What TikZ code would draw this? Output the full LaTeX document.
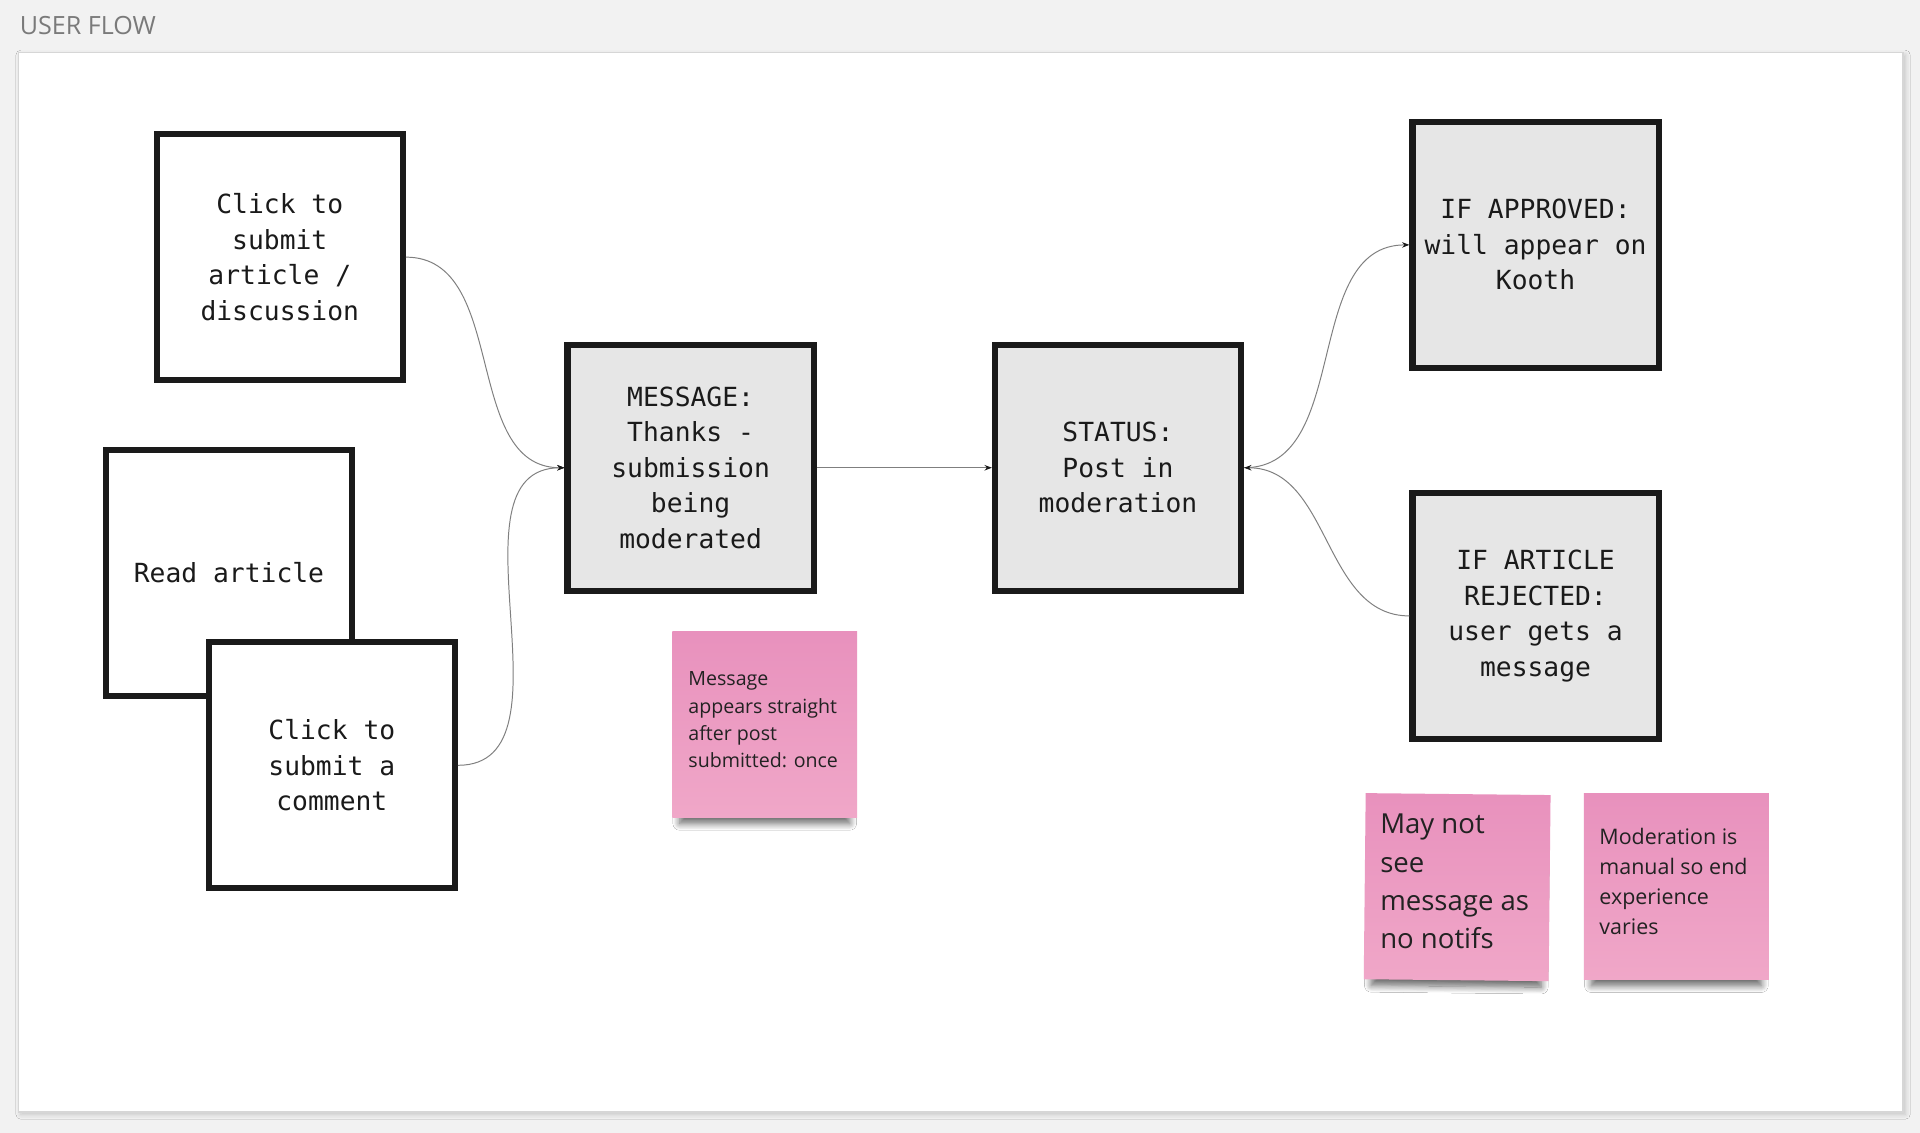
\documentclass[tikz,border=0pt]{standalone}
\usepackage{fontspec}
\setmainfont{Open Sans}
\setmonofont{DejaVu Sans Mono}
\usetikzlibrary{arrows.meta,shadows.blur}
\definecolor{canvas}{HTML}{F2F2F2}
\definecolor{boxline}{HTML}{1A1A1A}
\definecolor{boxgrey}{HTML}{E6E6E6}
\definecolor{linkgrey}{HTML}{7F7F7F}
\definecolor{pinktop}{HTML}{E891BD}
\definecolor{pinkbot}{HTML}{F0A7C8}
\definecolor{titlegrey}{HTML}{7A7A7A}
\definecolor{notetext}{HTML}{222222}
\tikzset{
  card/.style={draw=boxline, line width=5pt, fill=white, minimum width=201pt,
    minimum height=201pt, inner sep=0pt, align=center, text=boxline,
    font=\ttfamily\fontsize{21.5}{29}\selectfont},
  greycard/.style={card, fill=boxgrey},
  sticky/.style={top color=pinktop, bottom color=pinkbot, minimum width=151pt,
    minimum height=152pt, inner sep=0pt,
    blur shadow={shadow xshift=0pt, shadow yshift=-12pt, shadow opacity=60,
      shadow blur radius=6pt, shadow blur steps=10, shadow scale=0.92}},
  notetxt/.style={anchor=base west, inner sep=0pt, text=notetext},
  link/.style={draw=linkgrey, line width=0.8pt,
    -{Stealth[length=6pt, width=4.5pt, color=boxline]}}
}
\begin{document}
\begin{tikzpicture}[x=1pt, y=-1pt]
\fill[canvas] (0,0) rectangle (1568,925);
\useasboundingbox (0,0) rectangle (1568,925);
\node[anchor=base west, inner sep=0pt, text=titlegrey,
  font=\fontsize{20.5}{24}\selectfont] (title) at (16,28) {USER FLOW};
\path[fill=white, draw=black!16, line width=1.2pt,
  blur shadow={shadow xshift=2pt, shadow yshift=-2pt, shadow opacity=20,
    shadow blur radius=4pt}] (15,43) rectangle (1554,908);
% left column
\node[card] (submit) at (228.5,210) {Click to\\submit\\article /\\discussion};
\node[card] (read) at (187,468) {Read article};
\node[card] (comment) at (271,625) {Click to\\submit a\\comment};
% middle
\node[greycard] (message) at (564,382) {MESSAGE:\\Thanks -\\submission\\being\\moderated};
\node[greycard] (status) at (913,382) {STATUS:\\Post in\\moderation};
% right column
\node[greycard] (approved) at (1254,200) {IF APPROVED:\\will appear on\\Kooth};
\node[greycard] (rejected) at (1254,503) {IF ARTICLE\\REJECTED:\\user gets a\\message};
% connectors
\draw[link] (submit.east) to[out=0, in=180] (message.west);
\draw[link] (comment.east) to[out=0, in=180] (message.west);
\draw[link] (message.east) -- (status.west);
\draw[link] (status.east) to[out=0, in=180] (approved.west);
\draw[link] (rejected.west) to[out=180, in=0] (status.east);
% sticky notes
\node[sticky] (noteA) at (624.5,591.5) {};
\node[notetxt, font=\fontsize{16}{22.3}\selectfont] (noteAtext) at (562,560)
  {\parbox[t]{135pt}{Message\\appears straight\\after post\\submitted: once}};
\node[sticky, rotate=-0.6] (noteB) at (1190,724.5) {};
\node[notetxt, font=\fontsize{22.5}{31.3}\selectfont] (noteBtext) at (1127,681)
  {\parbox[t]{135pt}{May not\\see\\message as\\no notifs}};
\node[sticky] (noteC) at (1369,724) {};
\node[notetxt, font=\fontsize{17.5}{24.4}\selectfont] (noteCtext) at (1306,690)
  {\parbox[t]{135pt}{Moderation is\\manual so end\\experience\\varies}};
\end{tikzpicture}
\end{document}
